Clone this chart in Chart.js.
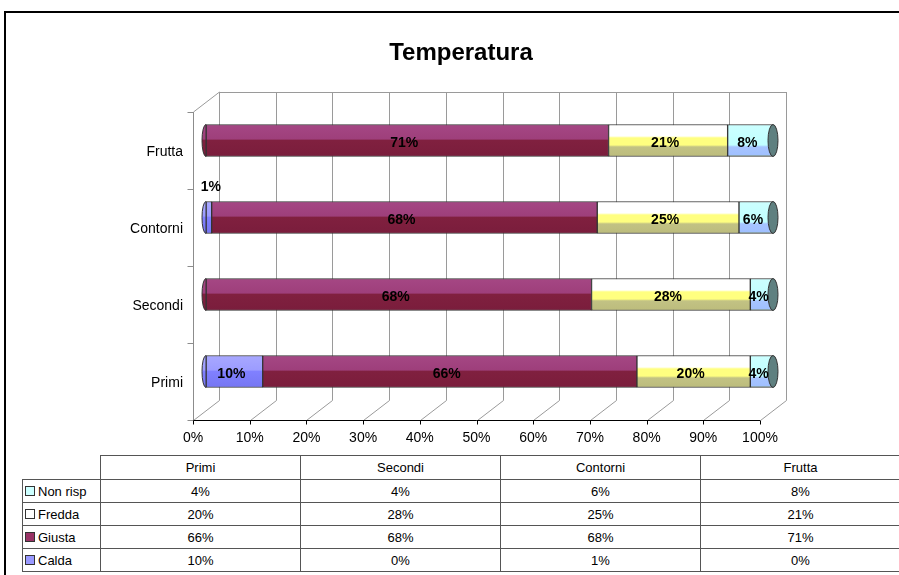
<!DOCTYPE html>
<html>
<head>
<meta charset="utf-8">
<script src="https://cdn.jsdelivr.net/npm/chart.js@4/dist/chart.umd.min.js"></script>
<style>
body{margin:0;background:#fff;overflow:hidden;font-family:'Liberation Sans',Arial,sans-serif;}
#cornice{position:absolute;left:4px;top:11px;width:1000px;height:700px;border:2px solid #000;}
#contenitore{position:absolute;left:0;top:0;width:899px;height:455px;}
#tabella{position:absolute;left:22px;top:455px;border-collapse:collapse;table-layout:fixed;width:878px;font-size:13px;color:#000;}
#tabella td{border:1px solid #555;padding:0;height:22px;text-align:center;white-space:nowrap;}
#tabella tr.testa td{height:23px;}
#tabella td.vuota{border-top:none;border-left:none;}
#tabella td.leg{text-align:left;padding-left:2px;}
.quad{display:inline-block;width:8px;height:8px;border:1px solid #333;margin-right:3px;vertical-align:0px;}
</style>
</head>
<body>
<div id="cornice"></div>
<div id="contenitore"><canvas id="grafico"></canvas></div>
<table id="tabella"></table>
<script>
// dati
var categorie = ['Primi', 'Secondi', 'Contorni', 'Frutta'];
var calda = [10, 0, 1, 0];
var giusta = [66, 68, 68, 71];
var fredda = [20, 28, 25, 21];
var nonRisp = [4, 4, 6, 8];
var titolo = 'Temperatura';

// effetto 3d
var DX = 26, DY = -20;
var SPESSORE = 32;

Chart.defaults.font.family = "'Liberation Sans', Arial, sans-serif";
Chart.defaults.color = '#000';

function riempi(stops, base) {
    return function (c) {
        var ch = c.chart;
        if (c.type !== 'data' || !ch.chartArea || !ch.scales.y) return base;
        var yc = ch.scales.y.getPixelForValue(c.dataIndex);
        var g = ch.ctx.createLinearGradient(0, yc - SPESSORE / 2, 0, yc + SPESSORE / 2);
        stops.forEach(function (s) { g.addColorStop(s[0], s[1]); });
        return g;
    };
}

var cornice3d = {
    id: 'cornice3d',
    beforeDatasetsDraw: function (chart) {
        var ctx = chart.ctx, a = chart.chartArea, sx = chart.scales.x;
        var l = Math.round(a.left) + 0.5, b = Math.round(a.bottom) + 0.5;
        ctx.save();
        ctx.lineWidth = 1;
        // pareti di fondo e pavimento
        ctx.strokeStyle = '#9a9a9a';
        ctx.beginPath();
        sx.ticks.forEach(function (t) {
            var px = Math.round(sx.getPixelForValue(t.value)) + 0.5;
            ctx.moveTo(px + DX, a.top + DY);
            ctx.lineTo(px + DX, b + DY);
            ctx.moveTo(px, b);
            ctx.lineTo(px + DX, b + DY);
        });
        ctx.moveTo(l + DX, Math.round(a.top + DY) + 0.5);
        ctx.lineTo(Math.round(sx.getPixelForValue(100)) + DX + 0.5, Math.round(a.top + DY) + 0.5);
        ctx.moveTo(l, a.top);
        ctx.lineTo(l + DX, a.top + DY);
        ctx.stroke();
        // asse verticale con le tacche
        ctx.strokeStyle = '#8c8c8c';
        ctx.beginPath();
        ctx.moveTo(l, a.top);
        ctx.lineTo(l, b);
        for (var i = 0; i <= categorie.length; i++) {
            var yy = Math.round(a.top + i * (a.bottom - a.top) / categorie.length) + 0.5;
            ctx.moveTo(l - 6, yy);
            ctx.lineTo(l, yy);
        }
        ctx.stroke();
        // asse orizzontale
        ctx.strokeStyle = '#000';
        ctx.beginPath();
        ctx.moveTo(l, b);
        ctx.lineTo(a.right, b);
        sx.ticks.forEach(function (t) {
            var px = Math.round(sx.getPixelForValue(t.value)) + 0.5;
            ctx.moveTo(px, b);
            ctx.lineTo(px, b + 4);
        });
        ctx.stroke();
        ctx.restore();
        // le barre stanno a metà profondità
        ctx.save();
        ctx.translate(DX / 2, DY / 2);
    },
    afterDatasetsDraw: function (chart) {
        var ctx = chart.ctx;
        var ds = chart.data.datasets;
        ctx.lineWidth = 1;
        ctx.strokeStyle = '#333';
        for (var j = 0; j < categorie.length; j++) {
            var primo = null, ultimo = null;
            for (var d = 0; d < ds.length; d++) {
                if (ds[d].data[j] > 0) {
                    var el = chart.getDatasetMeta(d).data[j];
                    if (!primo) primo = el;
                    ultimo = el;
                }
            }
            if (!primo) continue;
            // tappo sinistro
            ctx.beginPath();
            ctx.ellipse(primo.base, primo.y, 4, primo.height / 2, 0, Math.PI / 2, Math.PI * 1.5);
            ctx.closePath();
            ctx.fillStyle = primo.options.backgroundColor;
            ctx.fill();
            ctx.stroke();
            // tappo destro
            ctx.beginPath();
            ctx.ellipse(ultimo.x, ultimo.y, 5, ultimo.height / 2, 0, 0, Math.PI * 2);
            ctx.fillStyle = '#5f8080';
            ctx.fill();
            ctx.stroke();
        }
        // etichette percentuali
        ctx.font = "bold 14px 'Liberation Sans', Arial, sans-serif";
        ctx.fillStyle = '#000';
        ctx.textAlign = 'center';
        ctx.textBaseline = 'middle';
        ds.forEach(function (set, d) {
            chart.getDatasetMeta(d).data.forEach(function (el, j) {
                var v = set.data[j];
                if (!v) return;
                var cx = (el.x + el.base) / 2;
                if (v < 3) {
                    ctx.fillText(v + '%', cx + 2, el.y - el.height / 2 - 14);
                } else {
                    ctx.fillText(v + '%', cx - 3, el.y + 3);
                }
            });
        });
        ctx.restore();
    },
    afterDraw: function (chart) {
        // titolo centrato sul riquadro esterno, non sull'area del grafico
        var ctx = chart.ctx;
        ctx.save();
        ctx.font = "bold 24px 'Liberation Sans', Arial, sans-serif";
        ctx.fillStyle = '#000';
        ctx.textAlign = 'center';
        ctx.textBaseline = 'middle';
        ctx.fillText(titolo, 461, 53);
        ctx.restore();
    }
};

new Chart(document.getElementById('grafico'), {
    type: 'bar',
    data: {
        labels: categorie,
        datasets: [
            { label: 'Calda', data: calda,
              backgroundColor: riempi([[0, '#a8a8ff'], [0.45, '#9c9cff'], [0.5, '#8080ff'], [1, '#7676f2']], '#9999ff') },
            { label: 'Giusta', data: giusta,
              backgroundColor: riempi([[0, '#a54784'], [0.45, '#9e3f7b'], [0.5, '#80203f'], [1, '#7a1d3c']], '#993366') },
            { label: 'Fredda', data: fredda,
              backgroundColor: riempi([[0, '#ffffff'], [0.36, '#ffffff'], [0.42, '#ffff80'], [0.64, '#ffff80'], [0.7, '#c2c284'], [1, '#bcbc7c']], '#ffffcc') },
            { label: 'Non risp', data: nonRisp,
              backgroundColor: riempi([[0, '#ccffff'], [0.64, '#c0ffff'], [0.7, '#a6c4ff'], [0.94, '#a0c0ff'], [1, '#88a888']], '#ccffff') }
        ]
    },
    options: {
        indexAxis: 'y',
        responsive: true,
        maintainAspectRatio: false,
        animation: false,
        layout: { padding: { left: 100, right: 139, top: 112, bottom: 0 } },
        datasets: {
            bar: { barThickness: SPESSORE, borderWidth: 1, borderColor: '#333', borderSkipped: false, clip: false }
        },
        plugins: {
            legend: { display: false },
            tooltip: { enabled: false },
            title: { display: false }
        },
        scales: {
            x: {
                stacked: true,
                min: 0,
                max: 100,
                grid: { display: false, drawTicks: false },
                border: { display: false },
                ticks: { stepSize: 10, padding: 10, maxRotation: 0, font: { size: 14 },
                         callback: function (v) { return v + '%'; } },
                afterFit: function (s) { s.height = 35; }
            },
            y: {
                stacked: true,
                reverse: true,
                grid: { display: false, drawTicks: false },
                border: { display: false },
                ticks: { padding: 10, labelOffset: 2, font: { size: 14 } },
                afterFit: function (s) { s.width = 93; }
            }
        }
    },
    plugins: [cornice3d]
});

// tabella dati sotto il grafico
var righe = [
    ['Non risp', nonRisp, '#ccffff'],
    ['Fredda', fredda, '#ffffff'],
    ['Giusta', giusta, '#993366'],
    ['Calda', calda, '#9999ff']
];
var html = '<colgroup><col style="width:78px">';
categorie.forEach(function () { html += '<col style="width:200px">'; });
html += '</colgroup><tr class="testa"><td class="vuota"></td>';
categorie.forEach(function (c) { html += '<td>' + c + '</td>'; });
html += '</tr>';
righe.forEach(function (r) {
    html += '<tr><td class="leg"><span class="quad" style="background:' + r[2] + '"></span>' + r[0] + '</td>';
    r[1].forEach(function (v) { html += '<td>' + v + '%</td>'; });
    html += '</tr>';
});
document.getElementById('tabella').innerHTML = html;
</script>
</body>
</html>
